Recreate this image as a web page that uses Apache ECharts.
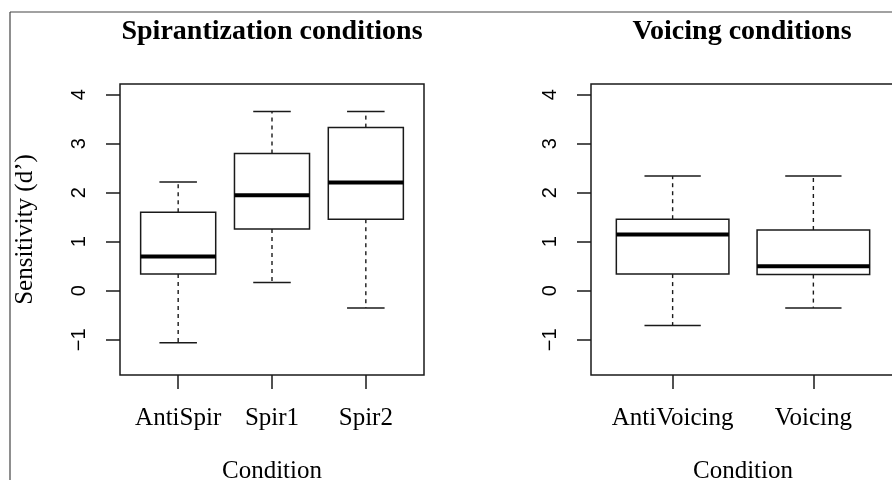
<!DOCTYPE html>
<html>
<head>
<meta charset="utf-8">
<script src="https://cdn.jsdelivr.net/npm/echarts@6/dist/echarts.min.js"></script>
<style>
html,body{margin:0;padding:0;background:#fff;}
#chart{width:892px;height:480px;}
</style>
</head>
<body>
<div id="chart"></div>
<script>
// ---- Data ----
const spirCategories = ['AntiSpir', 'Spir1', 'Spir2'];
const spirLow    = [-1.06, 0.17, -0.35];
const spirQ1     = [0.34, 1.26, 1.46];
const spirMedian = [0.70, 1.95, 2.21];
const spirQ3     = [1.60, 2.80, 3.33];
const spirHigh   = [2.22, 3.66, 3.66];

const voiCategories = ['AntiVoicing', 'Voicing'];
const voiLow    = [-0.71, -0.35];
const voiQ1     = [0.34, 0.33];
const voiMedian = [1.15, 0.50];
const voiQ3     = [1.46, 1.24];
const voiHigh   = [2.34, 2.34];

const yTicks = [-1, 0, 1, 2, 3, 4];

const titles = ['Spirantization conditions', 'Voicing conditions'];
const yName = 'Sensitivity (d\u2019)';
const xName = 'Condition';

// ---- Build ----
const INK = '#1a1a1a';
const SERIF = '"Liberation Serif", "DejaVu Serif", serif';
const SANS = '"Liberation Sans", Arial, sans-serif';
const BOX_W = 0.8, CAP_W = 0.4;

function rows(cats, lo, q1, med, q3, hi) {
  return cats.map((c, i) => [i + 1, lo[i], q1[i], med[i], q3[i], hi[i]]);
}

function renderBox(params, api) {
  const x = api.value(0);
  const pLo = api.coord([x, api.value(1)]);
  const pQ1 = api.coord([x, api.value(2)]);
  const pMed = api.coord([x, api.value(3)]);
  const pQ3 = api.coord([x, api.value(4)]);
  const pHi = api.coord([x, api.value(5)]);
  const hb = api.size([BOX_W / 2, 0])[0];
  const hc = api.size([CAP_W / 2, 0])[0];
  const cx = pMed[0];
  const dash = { stroke: INK, lineWidth: 1.4, lineDash: [4, 4] };
  const solid = { stroke: INK, lineWidth: 1.5 };
  return {
    type: 'group',
    children: [
      { type: 'line', shape: { x1: cx, y1: pQ3[1], x2: cx, y2: pHi[1] }, style: dash },
      { type: 'line', shape: { x1: cx, y1: pQ1[1], x2: cx, y2: pLo[1] }, style: dash },
      { type: 'line', shape: { x1: cx - hc, y1: pHi[1], x2: cx + hc, y2: pHi[1] }, style: solid },
      { type: 'line', shape: { x1: cx - hc, y1: pLo[1], x2: cx + hc, y2: pLo[1] }, style: solid },
      { type: 'rect', shape: { x: cx - hb, y: pQ3[1], width: 2 * hb, height: pQ1[1] - pQ3[1] },
        style: { fill: '#fff', stroke: INK, lineWidth: 1.5 } },
      { type: 'line', shape: { x1: cx - hb, y1: pMed[1], x2: cx + hb, y2: pMed[1] },
        style: { stroke: '#000', lineWidth: 4 } }
    ]
  };
}

function xAxisFor(gridIndex, cats, min, max) {
  const vals = cats.map((c, i) => i + 1);
  return {
    type: 'value', gridIndex, min, max, position: 'bottom',
    splitLine: { show: false },
    axisLine: { show: false, onZero: false },
    axisTick: { show: true, customValues: vals, length: 14, inside: false, lineStyle: { color: INK, width: 1.5 } },
    axisLabel: { show: true, customValues: vals, margin: 31, fontFamily: SERIF, fontSize: 25, color: '#000',
      formatter: v => cats[Math.round(v) - 1] || '' },
    name: xName, nameLocation: 'middle', nameGap: 84,
    nameTextStyle: { fontFamily: SERIF, fontSize: 25, color: '#000' }
  };
}

function yAxisFor(gridIndex, withName) {
  const ax = {
    type: 'value', gridIndex, min: -1.72, max: 4.22, position: 'left',
    splitLine: { show: false },
    axisLine: { show: false, onZero: false },
    axisTick: { show: true, customValues: yTicks, length: 14, inside: false, lineStyle: { color: INK, width: 1.5 } },
    axisLabel: { show: true, customValues: yTicks, rotate: 90, margin: 31, fontFamily: SANS, fontSize: 20, color: '#000',
      formatter: v => (v < 0 ? '\u2212' + Math.abs(v) : String(v)) }
  };
  if (withName) {
    ax.name = yName;
    ax.nameLocation = 'middle';
    ax.nameGap = 82;
    ax.nameTextStyle = { fontFamily: SERIF, fontSize: 25, color: '#000' };
  }
  return ax;
}

const chart = echarts.init(document.getElementById('chart'), null, { renderer: 'canvas' });
chart.setOption({
  backgroundColor: '#fff',
  animation: false,
  title: [
    { text: titles[0], left: 267, top: 13, textAlign: 'center',
      textStyle: { fontFamily: SERIF, fontWeight: 'bold', fontSize: 28, color: '#000' } },
    { text: titles[1], left: 737, top: 13, textAlign: 'center',
      textStyle: { fontFamily: SERIF, fontWeight: 'bold', fontSize: 28, color: '#000' } }
  ],
  grid: [
    { left: 120, top: 84, width: 304, height: 291, show: true, borderColor: INK, borderWidth: 1.5,
      backgroundColor: 'transparent', containLabel: false, outerBoundsMode: 'none' },
    { left: 591, top: 84, width: 304, height: 291, show: true, borderColor: INK, borderWidth: 1.5,
      backgroundColor: 'transparent', containLabel: false, outerBoundsMode: 'none' }
  ],
  xAxis: [
    xAxisFor(0, spirCategories, 0.38, 3.62),
    xAxisFor(1, voiCategories, 0.42, 2.58)
  ],
  yAxis: [yAxisFor(0, true), yAxisFor(1, false)],
  graphic: [
    { type: 'line', shape: { x1: 10, y1: 12, x2: 892, y2: 12 }, style: { stroke: '#444', lineWidth: 1.2 } },
    { type: 'line', shape: { x1: 10, y1: 12, x2: 10, y2: 480 }, style: { stroke: '#444', lineWidth: 1.2 } }
  ],
  series: [
    { type: 'custom', xAxisIndex: 0, yAxisIndex: 0, renderItem: renderBox,
      encode: { x: 0, y: [1, 2, 3, 4, 5] },
      data: rows(spirCategories, spirLow, spirQ1, spirMedian, spirQ3, spirHigh) },
    { type: 'custom', xAxisIndex: 1, yAxisIndex: 1, renderItem: renderBox,
      encode: { x: 0, y: [1, 2, 3, 4, 5] },
      data: rows(voiCategories, voiLow, voiQ1, voiMedian, voiQ3, voiHigh) }
  ]
});
</script>
</body>
</html>
